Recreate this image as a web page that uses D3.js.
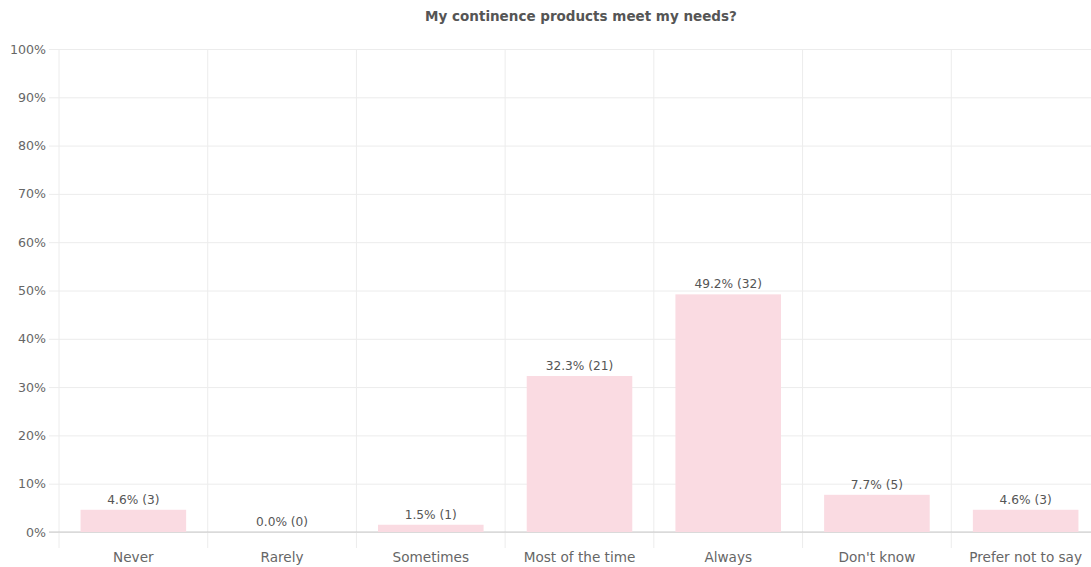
<!DOCTYPE html>
<html>
<head>
<meta charset="utf-8">
<script src="https://cdn.jsdelivr.net/npm/d3@7"></script>
<style>
	body { margin: 0; background: #fff; }
	svg text { font-family: 'DejaVu Sans', sans-serif; }
</style>
</head>
<body>
<svg id="main_svg"></svg>
<script>
const WIDTH = 1091;
const HEIGHT = 567;
const MARGIN_LEFT = 59;
const MARGIN_TOP = 49;
const PLOT_RIGHT = 1100; // plot runs slightly past the window edge
const PLOT_BOTTOM = 532;

const categories = ['Never', 'Rarely', 'Sometimes', 'Most of the time', 'Always', "Don't know", 'Prefer not to say'];
const percents = [4.6, 0.0, 1.5, 32.3, 49.2, 7.7, 4.6];
const counts = [3, 0, 1, 21, 32, 5, 3];
const y_ticks = [0, 10, 20, 30, 40, 50, 60, 70, 80, 90, 100];

const svg = d3.select('#main_svg').attr('width', WIDTH).attr('height', HEIGHT);

const x_scale = d3.scaleBand()
	.domain(categories)
	.range([MARGIN_LEFT, PLOT_RIGHT])
	.paddingInner(0.29)
	.paddingOuter(0.145);

const y_scale = d3.scaleLinear()
	.domain([0, 100])
	.range([PLOT_BOTTOM, MARGIN_TOP]);

const step = (PLOT_RIGHT - MARGIN_LEFT) / categories.length;

// horizontal grid lines + y labels
svg.append('g')
	.attr('transform', `translate(${MARGIN_LEFT},0)`)
	.call(d3.axisLeft(y_scale)
		.tickValues(y_ticks)
		.tickSize(-(PLOT_RIGHT - MARGIN_LEFT))
		.tickPadding(13)
		.tickFormat(d => d + '%'))
	.call(g => g.select('.domain').remove())
	.call(g => g.selectAll('.tick line').attr('stroke', '#ececec').attr('x1', -10))
	.call(g => g.selectAll('.tick text').attr('fill', '#666').attr('font-size', 12.6));

// vertical grid lines between categories
svg.append('g')
	.selectAll('line')
	.data(categories)
	.join('line')
	.attr('x1', (d, i) => MARGIN_LEFT + i * step)
	.attr('x2', (d, i) => MARGIN_LEFT + i * step)
	.attr('y1', MARGIN_TOP)
	.attr('y2', PLOT_BOTTOM + 16)
	.attr('stroke', '#ececec');

// baseline
svg.append('line')
	.attr('x1', MARGIN_LEFT - 10)
	.attr('x2', PLOT_RIGHT)
	.attr('y1', y_scale(0))
	.attr('y2', y_scale(0))
	.attr('stroke', '#c8c8c8');

// bars
svg.append('g')
	.selectAll('rect')
	.data(percents)
	.join('rect')
	.attr('x', (d, i) => x_scale(categories[i]))
	.attr('width', x_scale.bandwidth())
	.attr('y', d => y_scale(d))
	.attr('height', d => y_scale(0) - y_scale(d))
	.attr('fill', '#fadbe2');

// value labels
svg.append('g')
	.selectAll('text')
	.data(percents)
	.join('text')
	.attr('x', (d, i) => x_scale(categories[i]) + x_scale.bandwidth() / 2)
	.attr('y', d => y_scale(d) - 6)
	.attr('text-anchor', 'middle')
	.attr('font-size', 12.2)
	.attr('fill', '#555')
	.text((d, i) => `${d.toFixed(1)}% (${counts[i]})`);

// category labels
svg.append('g')
	.attr('transform', `translate(0,${PLOT_BOTTOM})`)
	.call(d3.axisBottom(x_scale).tickSize(0).tickPadding(20))
	.call(g => g.select('.domain').remove())
	.call(g => g.selectAll('.tick text').attr('fill', '#666').attr('font-size', 13.6));

// title
svg.append('text')
	.attr('x', 581)
	.attr('y', 21)
	.attr('text-anchor', 'middle')
	.attr('font-size', 13.5)
	.attr('font-weight', 'bold')
	.attr('fill', '#555')
	.text('My continence products meet my needs?');
</script>
</body>
</html>
